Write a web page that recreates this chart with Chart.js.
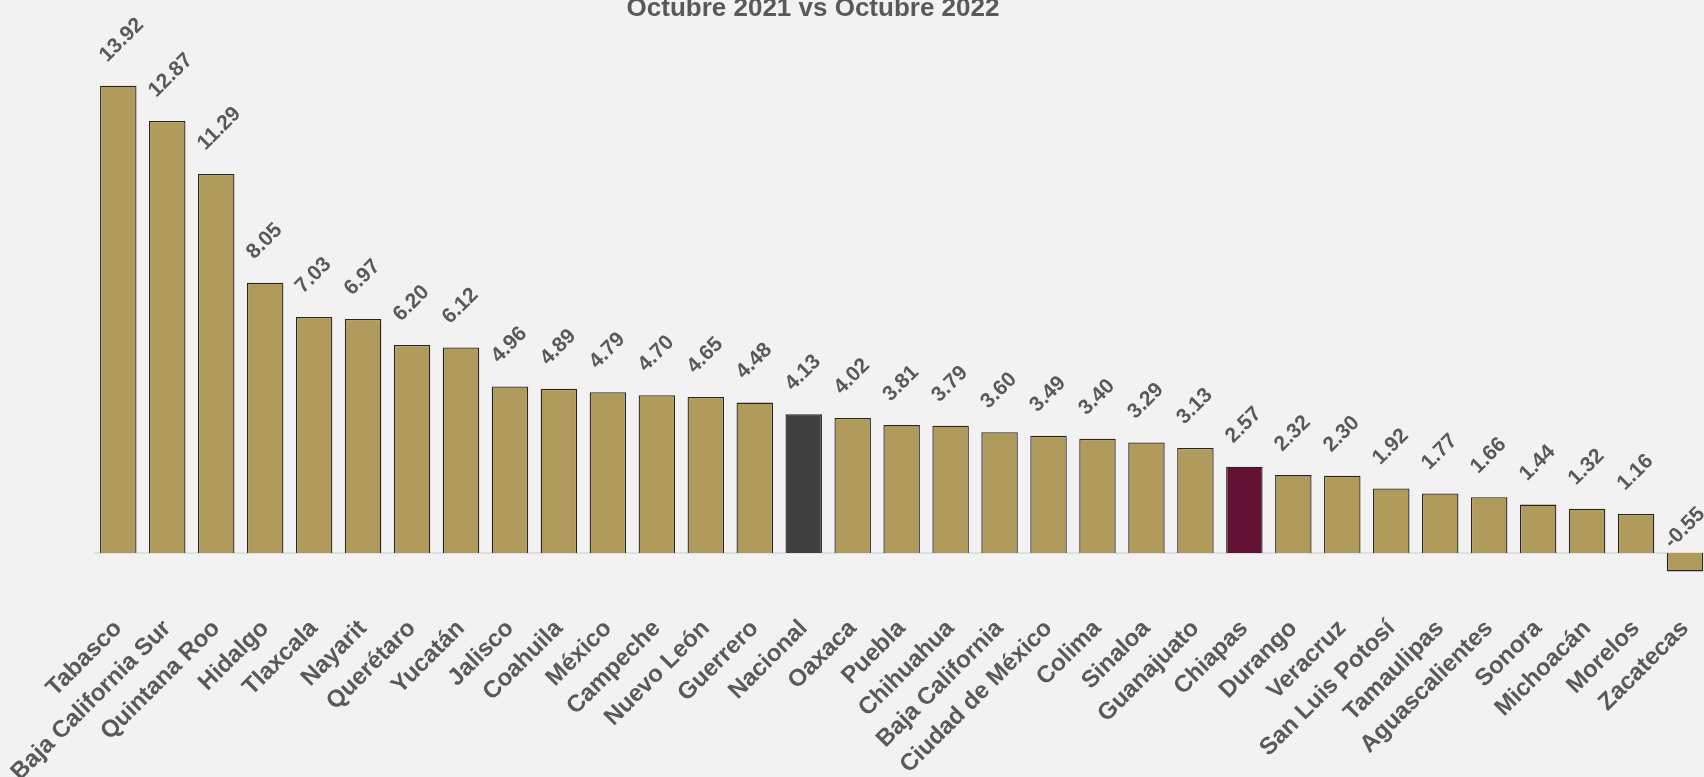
<!DOCTYPE html>
<html><head><meta charset="utf-8">
<script src="https://cdn.jsdelivr.net/npm/chart.js@4/dist/chart.umd.min.js"></script>
<style>
html,body{margin:0;padding:0;background:#F2F2F2;overflow:hidden;width:1704px;height:777px;}
#wrap{position:absolute;left:0;top:0;width:1710px;height:777px;}
</style></head><body>
<div id="wrap"><canvas id="c" width="1710" height="777"></canvas></div>
<script>
const categories = ["Tabasco","Baja California Sur","Quintana Roo","Hidalgo","Tlaxcala","Nayarit","Querétaro","Yucatán","Jalisco","Coahuila","México","Campeche","Nuevo León","Guerrero","Nacional","Oaxaca","Puebla","Chihuahua","Baja California","Ciudad de México","Colima","Sinaloa","Guanajuato","Chiapas","Durango","Veracruz","San Luis Potosí","Tamaulipas","Aguascalientes","Sonora","Michoacán","Morelos","Zacatecas"];
const values = [13.92,12.87,11.29,8.05,7.03,6.97,6.20,6.12,4.96,4.89,4.79,4.70,4.65,4.48,4.13,4.02,3.81,3.79,3.60,3.49,3.40,3.29,3.13,2.57,2.32,2.30,1.92,1.77,1.66,1.44,1.32,1.16,-0.55];
const titleText = "Octubre 2021 vs Octubre 2022";
const baseColor = "#B09A5C";
const highlight = {"Nacional":"#404040","Chiapas":"#621132"};
const colors = categories.map(c => highlight[c] || baseColor);

const overlay = {
  id:'overlay',
  beforeDatasetsDraw(chart){
    const ctx = chart.ctx, y0 = chart.scales.y.getPixelForValue(0), a = chart.chartArea;
    ctx.save(); ctx.strokeStyle='#D9D9D9'; ctx.lineWidth=1.6;
    ctx.beginPath(); ctx.moveTo(a.left, y0); ctx.lineTo(a.right, y0); ctx.stroke(); ctx.restore();
  },
  afterDatasetsDraw(chart){
    const ctx = chart.ctx, meta = chart.getDatasetMeta(0), y0 = chart.scales.y.getPixelForValue(0);
    ctx.save();
    ctx.fillStyle='#595959'; ctx.font='bold 21px "Liberation Sans", Arial, sans-serif';
    ctx.textAlign='left'; ctx.textBaseline='alphabetic';
    meta.data.forEach((bar,i)=>{
      const v = values[i];
      let x, y;
      if (v >= 0){ x = bar.x - 11; y = bar.y - 23; }
      else { x = bar.x - 13; y = y0 - 4; }
      ctx.save(); ctx.translate(x,y); ctx.rotate(-Math.PI/4);
      ctx.fillText(v.toFixed(2),0,0); ctx.restore();
    });
    ctx.font='bold 26px "Liberation Sans", Arial, sans-serif';
    ctx.textAlign='center';
    ctx.fillText(titleText, 813, 16);
    ctx.restore();
  }
};

new Chart(document.getElementById('c'), {
  type:'bar',
  data:{ labels:categories, datasets:[{ data:values, backgroundColor:colors, borderColor:'#262626', borderWidth:1.3, categoryPercentage:1, barPercentage:0.745 }]},
  options:{
    responsive:false, animation:false,
    layout:{ padding:{ left:93.8, right:0.5, top:16, bottom:0 } },
    plugins:{ legend:{display:false}, tooltip:{enabled:false}, title:{display:false} },
    scales:{
      x:{ grid:{display:false, drawTicks:false}, border:{display:false},
          ticks:{ color:'#595959', font:{family:'"Liberation Sans", Arial, sans-serif', size:24, weight:'bold'}, maxRotation:45, minRotation:45, padding:28, autoSkip:false },
          afterFit(s){ s.height = 190.5; s.paddingLeft = 0; s.paddingRight = 0; } },
      y:{ display:false, min:-1, max:16 }
    }
  },
  plugins:[overlay]
});
</script></body></html>
